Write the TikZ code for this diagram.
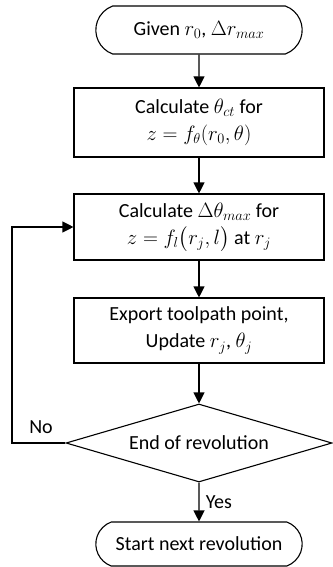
\documentclass[tikz,border=0pt]{standalone}
\usepackage{amsmath}
\usepackage{fontspec}
\setmainfont{Carlito}
\usetikzlibrary{shapes.geometric, shapes.misc, arrows.meta, positioning}
\tikzset{
	x=1pt, y=-1pt,
	terminal/.style={draw, rounded rectangle, rounded rectangle arc length=140, minimum width=213pt, minimum height=48pt, line width=1.1pt},
	block/.style={draw, minimum width=250pt, align=center, line width=1.1pt},
	decision/.style={draw, diamond, minimum width=266pt, minimum height=78pt, aspect=3.4, inner sep=0pt, line width=1.1pt},
	flow/.style={line width=1.1pt, -{Triangle[length=11pt, width=11pt]}}
}

\begin{document}
\begin{tikzpicture}[font=\fontsize{20}{27}\selectfont]
		\useasboundingbox (0,0) rectangle (332,567);
		\node[terminal] (given) at (199,30) {Given $r_0$, $\Delta r_{max}$};
		\node[block, minimum height=69pt] (theta) at (199,122.5) {Calculate $\theta_{ct}$ for\\ $z=f_\theta(r_0,\theta)$};
		\node[block, minimum height=66pt] (dtheta) at (199,227) {Calculate $\Delta\theta_{max}$ for\\ $z=f_l\bigl(r_j,l\bigr)$ at $r_j$};
		\node[block, minimum height=65pt] (export) at (199,330.5) {Export toolpath point,\\ Update $r_j$, $\theta_j$};
		\node[decision] (endrev) at (199,443) {End of revolution};
		\node[terminal, minimum height=44pt] (next) at (199,544) {Start next revolution};
		
		\coordinate (noturn) at (12,443);
		
		\draw[flow] (given) -- (theta);
		\draw[flow] (theta) -- (dtheta);
		\draw[flow] (dtheta) -- (export);
		\draw[flow] (export) -- (endrev);
		\draw[flow] (endrev) -- node[right=3pt] (yes) {Yes} (next);
		\draw[flow] (endrev.west) -- (noturn) |- (dtheta.west);
		
		\node at (41,427) (no) {No};
	\end{tikzpicture}
\end{document}
